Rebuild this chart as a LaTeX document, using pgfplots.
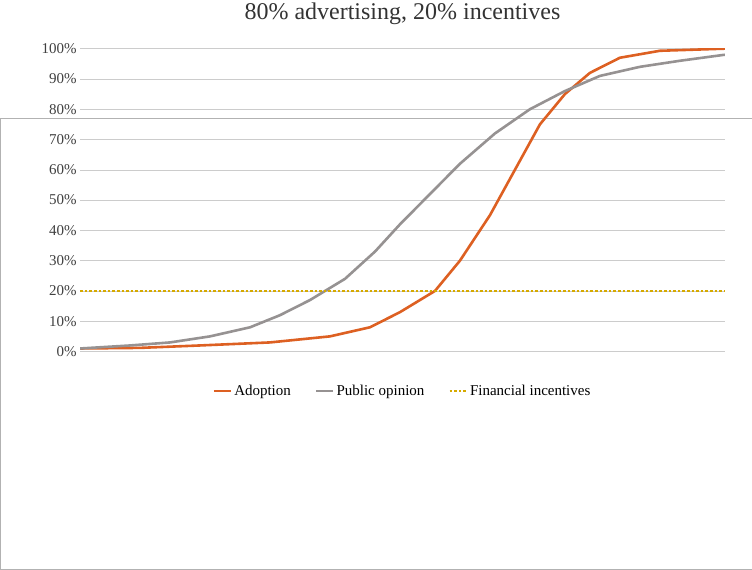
\documentclass[border=0pt]{standalone}
\usepackage{pgfplots}
\pgfplotsset{compat=1.18}
\usepackage{fontspec}
\setmainfont{Liberation Serif}
\definecolor{adop}{RGB}{221,96,34}
\definecolor{pub}{RGB}{150,146,146}
\definecolor{fin}{RGB}{214,170,0}
\begin{document}
\begin{tikzpicture}[x=1pt,y=1pt]
\path[draw=gray!60,fill=white] (0,0) rectangle (752,452);
\begin{axis}[at={(80,72)},anchor=south west,width=645pt,height=303pt,scale only axis,
 xmin=80,xmax=725,ymin=0,ymax=100,axis line style={draw=none},
 ytick={0,10,...,100},yticklabel={\pgfmathprintnumber{\tick}\%},
 /pgf/number format/assume math mode=true,
 xtick=\empty,ymajorgrids,grid style={gray!40},major tick length=0pt,
 tick label style={font=\fontsize{15}{15}\selectfont,text=black!75},
 title={80\% advertising, 20\% incentives},title style={font=\fontsize{24}{24}\selectfont,text=black!80,yshift=14pt},
 legend style={at={(0.5,-0.13)},anchor=center,draw=none,font=\fontsize{15}{15}\selectfont,legend columns=3,/tikz/every even column/.append style={column sep=22pt}},
 legend cell align=left]
\addplot[adop,line width=2.6pt] coordinates {(80,1)(140,1.2)(200,2)(270,3)(330,5)(370,8)(400,13)(435,20)(460,30)(490,45)(515,60)(540,75)(565,85)(590,92)(620,97)(660,99.3)(725,100)};
\addlegendentry{Adoption}
\addplot[pub,line width=2.6pt] coordinates {(80,1)(130,2)(170,3)(210,5)(250,8)(280,12)(310,17)(345,24)(375,33)(400,42)(430,52)(460,62)(495,72)(530,80)(565,86)(600,91)(640,94)(680,96)(725,98)};
\addlegendentry{Public opinion}
\addplot[fin,line width=2.6pt,dotted] coordinates {(80,20)(725,20)};
\addlegendentry{Financial incentives}
\end{axis}
\end{tikzpicture}
\end{document}
